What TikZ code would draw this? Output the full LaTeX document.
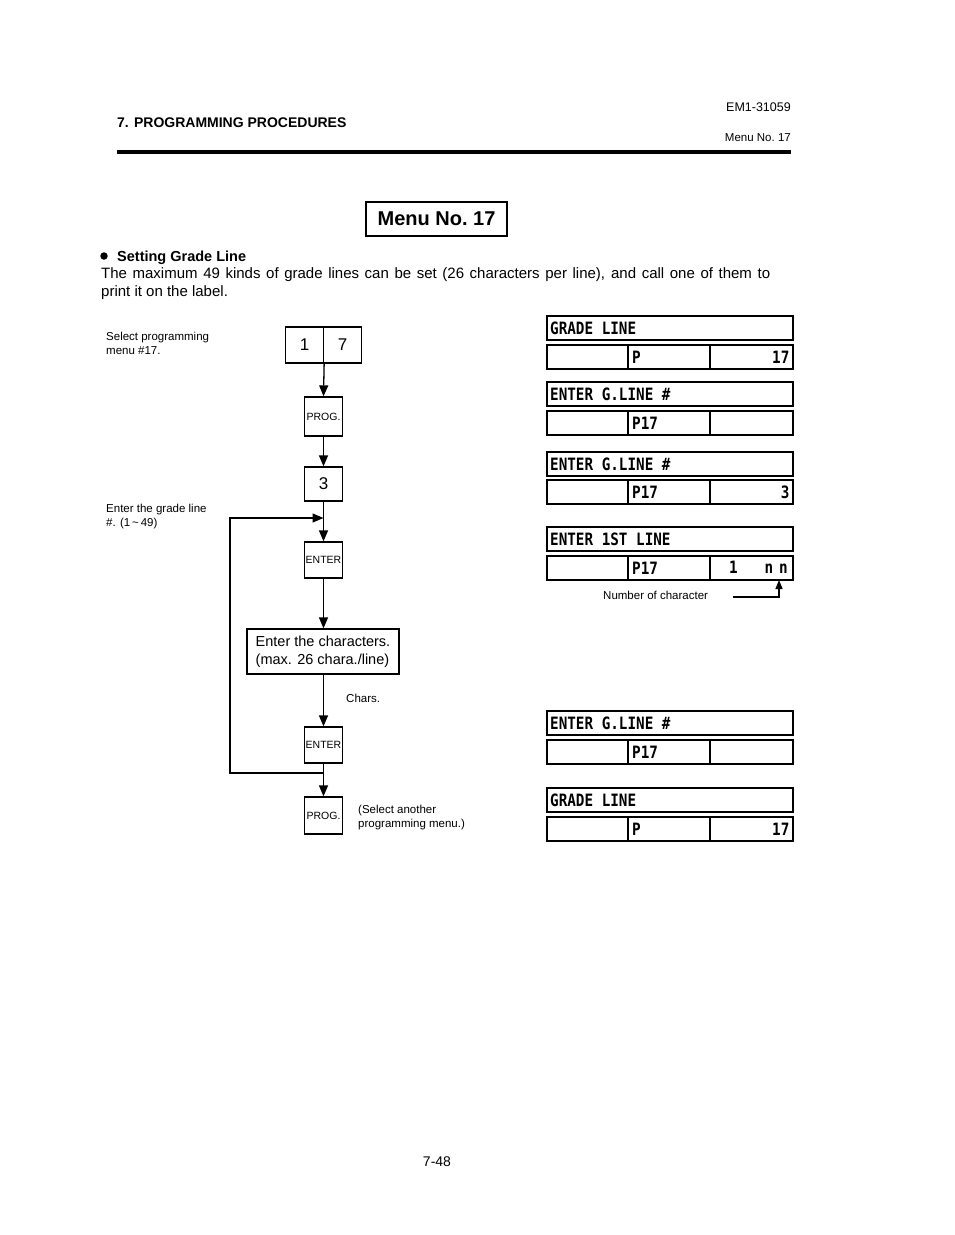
\documentclass[tikz,border=0pt]{standalone}
\usepackage{fontspec}
\setmainfont{Liberation Sans}
\newfontfamily\lcd[FakeStretch=0.84]{DejaVu Sans Mono}
\usetikzlibrary{arrows.meta}
\newcommand\fsz[2]{\fontsize{#1}{#2}\selectfont}
\tikzset{
  keybox/.style={draw, line width=1.3pt, inner sep=0pt, minimum width=38pt, minimum height=36pt},
  conn/.style={line width=1.3pt},
  arr/.style={line width=1.3pt, -{Triangle[length=11pt,width=9pt]}},
  smallarr/.style={line width=1.3pt, -{Triangle[length=9pt,width=7pt]}},
  lcdbox/.style={draw, line width=1.6pt, inner sep=0pt, minimum height=24pt, anchor=north west},
  lcdtxt/.style={inner sep=0pt, font=\lcd\bfseries\fsz{17}{20}},
  small/.style={inner sep=0pt, font=\fsz{11.5}{14}},
}
\newcommand\lcdpanel[6]{%
  \node[lcdbox, minimum width=246pt] (#1top) at (546,#2) {};
  \node[lcdbox, minimum width=81pt] (#1a) at (546,#3) {};
  \node[lcdbox, minimum width=82pt] (#1b) at (627,#3) {};
  \node[lcdbox, minimum width=83pt] (#1c) at (709,#3) {};
  \node[lcdtxt, anchor=base west] (#1t) at ([xshift=4pt,yshift=-6.2pt]#1top.west) {#4};
  \node[lcdtxt, anchor=base west] (#1m) at ([xshift=5pt,yshift=-6.2pt]#1b.west) {#5};
  \node[lcdtxt, anchor=base east] (#1r) at ([xshift=-4pt,yshift=-6.2pt]#1c.east) {#6};
}
\begin{document}
\begin{tikzpicture}[x=1pt,y=-1pt]
\useasboundingbox (0,0) rectangle (954,1235);
\fill[white] (0,0) rectangle (954,1235);

% header
\node[anchor=base west, inner sep=0pt, font=\bfseries\fsz{14}{16}] (hdr) at (117,127) {7. PROGRAMMING PROCEDURES};
\node[anchor=base east, inner sep=0pt, font=\fsz{12.5}{14}] (docno) at (791,111) {EM1-31059};
\node[anchor=base east, small] (menuref) at (791,141) {Menu No.\ 17};
\fill (117,149.5) rectangle (791,153.5);

% title
\node[draw, line width=1.5pt, minimum width=141pt, minimum height=34pt, inner sep=0pt, font=\bfseries\fsz{20}{24}] (title) at (436.5,219) {Menu No.\ 17};

% intro
\node[circle, fill, inner sep=0pt, minimum size=7.5pt] (bullet) at (104,256) {};
\node[anchor=base west, inner sep=0pt, font=\bfseries\fsz{14.5}{16}] (subhead) at (117,261) {Setting Grade Line};
\node[anchor=base west, inner sep=0pt, font=\fsz{15}{18}] (para1) at (101,278) {\makebox[669pt][s]{The maximum 49 kinds of grade lines can be set (26 characters per line), and call one of them to}};
\node[anchor=base west, inner sep=0pt, font=\fsz{15}{18}] (para2) at (101,296) {print it on the label.};

% left notes
\node[small, anchor=base west] (sel1) at (106,340) {Select programming};
\node[small, anchor=base west] (sel2) at (106,354) {menu \#17.};
\node[small, anchor=base west] (gr1) at (106,512) {Enter the grade line};
\node[small, anchor=base west] (gr2) at (106,526) {\#. (1\,\textasciitilde\,49)};

% flow
\node[keybox, font=\fsz{17}{20}] (k1) at (304.5,345) {1};
\node[keybox, font=\fsz{17}{20}] (k7) at (342.5,345) {7};
\node[keybox, minimum height=39pt, font=\fsz{10.5}{12}] (prog1) at (323.5,416.5) {PROG.};
\node[keybox, minimum height=34pt, font=\fsz{17}{20}] (three) at (323.5,484) {3};
\node[keybox, font=\fsz{10.5}{12}] (enter1) at (323.5,560) {ENTER};
\node[keybox, minimum width=152pt, minimum height=45pt, align=left, font=\fsz{14.5}{18}] (chars) at (323,651.5) {Enter the characters.\\(max. 26 chara./line)};
\node[keybox, font=\fsz{10.5}{12}] (enter2) at (323.5,745) {ENTER};
\node[keybox, minimum height=37pt, font=\fsz{10.5}{12}] (prog2) at (323.5,815.5) {PROG.};

\coordinate (jtop) at (323.5,518);
\coordinate (ltop) at (230,518);
\coordinate (lbot) at (230,773);
\coordinate (jbot) at (323.5,773);

\draw[arr] (k1.south east) -- (prog1.north);
\draw[arr] (prog1.south) -- (three.north);
\draw[arr] (three.south) -- (enter1.north);
\draw[arr] (enter1.south) -- (chars.north -| enter1.south);
\draw[arr] (chars.south -| enter2.north) -- (enter2.north);
\draw[arr] (enter2.south) -- (prog2.north);
\draw[arr] (jbot) -- (lbot) -- (ltop) -- (jtop);

\node[small, anchor=base west] (charslbl) at (346,702) {Chars.};
\node[small, anchor=base west] (another1) at (358,813) {(Select another};
\node[small, anchor=base west] (another2) at (358,827) {programming menu.)};

% displays
\lcdpanel{pa}{315}{344}{GRADE LINE}{P}{17}
\lcdpanel{pb}{381}{410}{ENTER G.LINE \#}{P17}{}
\lcdpanel{pc}{451}{479}{ENTER G.LINE \#}{P17}{3}
\lcdpanel{pd}{526}{555}{ENTER 1ST LINE}{P17}{}
\node[lcdtxt, anchor=base] (one) at ([yshift=-6.2pt]733.5,567) {1};
\node[lcdtxt, anchor=base] (n1) at ([yshift=-6.2pt]769,567) {n};
\node[lcdtxt, anchor=base] (n2) at ([yshift=-6.2pt]783.5,567) {n};
\lcdpanel{pe}{710}{739}{ENTER G.LINE \#}{P17}{}
\lcdpanel{pf}{787}{816}{GRADE LINE}{P}{17}

\node[small, anchor=base west] (nclbl) at (603,599) {Number of character};
\coordinate (ncstart) at (733,597);
\coordinate (nccorner) at (779,597);
\coordinate (ncend) at (779,580);
\draw[smallarr] (ncstart) -- (nccorner) -- (ncend);

% page number
\node[anchor=base, inner sep=0pt, font=\fsz{14}{16}] (pageno) at (437,1166) {7-48};
\end{tikzpicture}
\end{document}
